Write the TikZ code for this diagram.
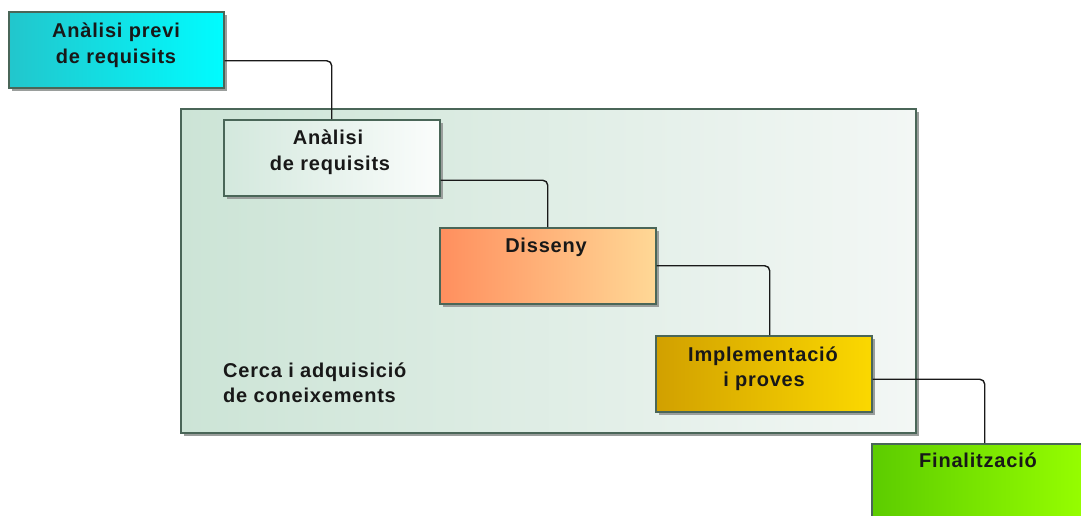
\documentclass[tikz,border=0pt]{standalone}
\usepackage{fontspec}
\setmainfont{Liberation Sans}[LetterSpace=4]
\usetikzlibrary{shadows,calc}

\definecolor{edge}{HTML}{4A6658}
\definecolor{shade}{HTML}{9A9E9C}
\definecolor{ink}{HTML}{181818}
\definecolor{cyanL}{HTML}{22C6CC}
\definecolor{cyanR}{HTML}{00FCFF}
\definecolor{reqL}{HTML}{D3E8DD}
\definecolor{reqR}{HTML}{FBFDFC}
\definecolor{disL}{HTML}{FF8F5E}
\definecolor{disR}{HTML}{FFD896}
\definecolor{impL}{HTML}{D1A000}
\definecolor{impR}{HTML}{FBD800}
\definecolor{finL}{HTML}{5CCC00}
\definecolor{finR}{HTML}{97FF00}
\definecolor{panelL}{HTML}{CCE4D6}
\definecolor{panelR}{HTML}{F3F7F5}

\begin{document}
\begin{tikzpicture}[x=1pt,y=-1pt,
  stage/.style={draw=edge, line width=1.5pt, minimum width=216pt, minimum height=76pt,
    anchor=north west, inner sep=0pt,
    drop shadow={shadow xshift=3pt, shadow yshift=-3pt, fill=shade, opacity=1}},
  panel/.style={draw=edge, line width=1.5pt, anchor=north west, inner sep=0pt,
    left color=panelL, right color=panelR,
    drop shadow={shadow xshift=3pt, shadow yshift=-3pt, fill=shade, opacity=1}},
  caption/.style={font=\bfseries\fontsize{20}{24}\selectfont, text=ink, anchor=base, inner sep=0pt},
  link/.style={draw=black!90, line width=1.4pt, rounded corners=5pt}]

\useasboundingbox (0,0) rectangle (1081,515);
\clip (0,0) rectangle (1081,515);

% knowledge-acquisition frame
\node[panel, minimum width=735pt, minimum height=324pt] (frame) at (180,108) {};
\node[caption, anchor=base west] (frame1) at (223,377) {Cerca i adquisició};
\node[caption, anchor=base west] (frame2) at (223,402) {de coneixements};

% stages
\node[stage, minimum width=215pt, left color=cyanL, right color=cyanR] (pre) at (8,11) {};
\node[stage, left color=reqL, right color=reqR] (req) at (223,119) {};
\node[stage, left color=disL, right color=disR] (dis) at (439,227) {};
\node[stage, left color=impL, right color=impR] (imp) at (655,335) {};
\node[stage, left color=finL, right color=finR] (fin) at (871,443) {};

% connectors
\draw[link] ($(pre.east)+(0,11)$) -| (req.north);
\draw[link] ($(req.east)+(0,22.5)$) -| (dis.north);
\draw[link] (dis.east) -| ($(imp.north)+(6,0)$);
\draw[link] ($(imp.east)+(0,5.5)$) -| ($(fin.north)+(5,0)$);

% stage captions
\node[caption] (pre1) at (116,37) {Anàlisi previ};
\node[caption] (pre2) at (116,63) {de requisits};
\node[caption] (req1) at (328,144) {Anàlisi};
\node[caption] (req2) at (330,170) {de requisits};
\node[caption] (dis1) at (546,252) {Disseny};
\node[caption] (imp1) at (763,361) {Implementació};
\node[caption] (imp2) at (764,386) {i proves};
\node[caption] (fin1) at (978,467) {Finalització};
\end{tikzpicture}
\end{document}
